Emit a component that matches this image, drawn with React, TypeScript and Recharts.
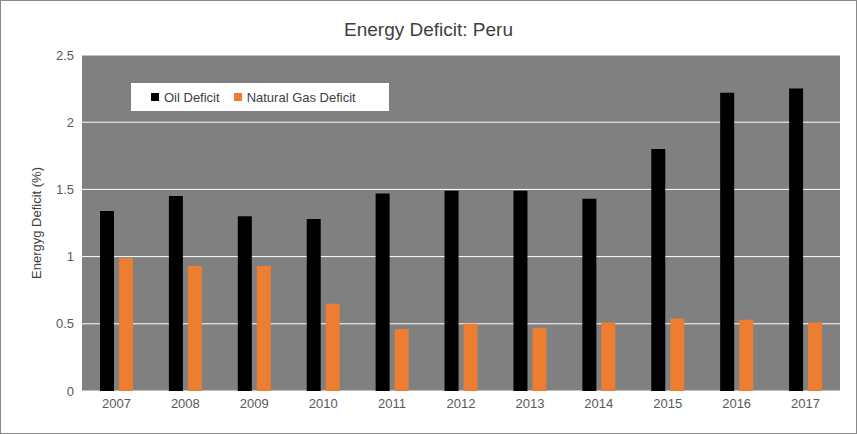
import React from "react";
import { BarChart, Bar, XAxis, YAxis, CartesianGrid } from "recharts";

const years = ["2007","2008","2009","2010","2011","2012","2013","2014","2015","2016","2017"];
const oil = [1.34,1.45,1.30,1.28,1.47,1.49,1.49,1.43,1.80,2.22,2.25];
const gas = [0.99,0.93,0.93,0.65,0.46,0.50,0.47,0.51,0.54,0.53,0.51];
const yTicks = [0,0.5,1,1.5,2,2.5];

const data = years.map((y, i) => ({ year: y, oil: oil[i], gas: gas[i] }));
const font = "'Liberation Sans', Arial, sans-serif";

const LegendBox = () => (
  <div style={{ position: "absolute", left: 130, top: 82, background: "#fff", width: 258, height: 28, display: "flex", alignItems: "center", fontFamily: font, fontSize: 13, color: "#404040", zIndex: 2 }}>
    <span style={{ width: 8, height: 8, background: "#000", marginLeft: 20, marginRight: 5 }} />Oil Deficit
    <span style={{ width: 8, height: 8, background: "#ED7D31", marginLeft: 14, marginRight: 5 }} />Natural Gas Deficit
  </div>
);

export default function App() {
  return (
    <div style={{ position: "absolute", left: 0, top: 0, width: 857, height: 434, background: "#fff", boxSizing: "border-box", border: "1px solid #888" }}>
      <div style={{ position: "absolute", top: 18, width: "100%", textAlign: "center", fontFamily: font, fontSize: 19, color: "#404040" }}>Energy Deficit: Peru</div>
      <LegendBox />
      <BarChart width={855} height={432} data={data} margin={{ top: 54, right: 16, bottom: 12, left: 31 }} barGap={5} barSize={14}>
        <CartesianGrid vertical={false} stroke="#fff" fill="#808080" />
        <XAxis dataKey="year" tickLine={false} axisLine={false} height={30} tick={{ fill: "#595959", fontSize: 13, fontFamily: font }} />
        <YAxis domain={[0, 2.5]} ticks={yTicks} tickLine={false} axisLine={false} width={50} tick={{ fill: "#595959", fontSize: 13, fontFamily: font }}
          label={{ value: "Energyg Deficit (%)", angle: -90, position: "insideLeft", offset: 4, style: { textAnchor: "middle", fill: "#404040", fontSize: 13, fontFamily: font } }} />
        <Bar dataKey="oil" fill="#000" isAnimationActive={false} />
        <Bar dataKey="gas" fill="#ED7D31" isAnimationActive={false} />
      </BarChart>
    </div>
  );
}
